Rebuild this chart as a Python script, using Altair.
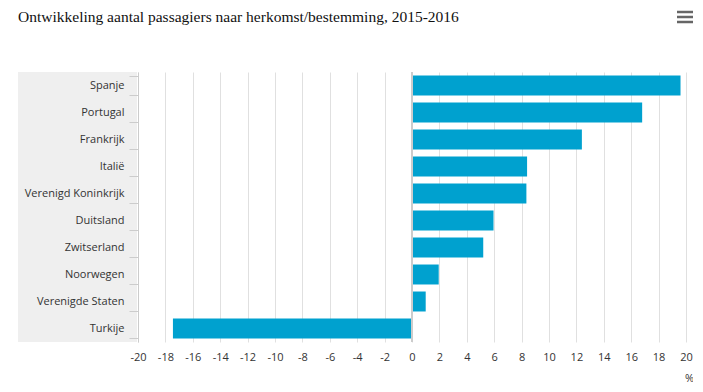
import altair as alt
import pandas as pd

countries = ["Spanje", "Portugal", "Frankrijk", "Italië", "Verenigd Koninkrijk",
             "Duitsland", "Zwitserland", "Noorwegen", "Verenigde Staten", "Turkije"]
values = [19.6, 16.8, 12.4, 8.4, 8.35, 5.95, 5.2, 1.95, 1.0, -17.45]
x_ticks = list(range(-20, 21, 2))
title_text = "Ontwikkeling aantal passagiers naar herkomst/bestemming, 2015-2016"

df = pd.DataFrame({"land": countries, "waarde": values})
menu_df = pd.DataFrame({"i": [0, 1, 2]})

W, H = 548, 270
LABEL_FONT = "Open Sans"

xscale = alt.Scale(domain=[-20, 20], nice=False, zero=False)
yscale = alt.Scale(domain=countries, paddingInner=0.26, paddingOuter=0.13)

xaxis = alt.Axis(values=x_ticks, tickCount=50, grid=True, gridColor="#e0e0e0", gridWidth=1,
                 domain=False, ticks=False, labelPadding=9, labelFontSize=11,
                 labelFont=LABEL_FONT, labelColor="#333333", title="%",
                 labelExpr="'' + datum.value", labelOverlap=False,
                 titleFont=LABEL_FONT, titleFontSize=11, titleFontWeight="normal",
                 titleColor="#333333", titleX=W + 3, titleY=36, titleAlign="center",
                 titleBaseline="middle", labelFlush=False)

band = alt.Chart(df).mark_rect(color="#efefef").encode(
    y=alt.Y("land:N", sort=countries, scale=alt.Scale(domain=countries, paddingInner=0, paddingOuter=0),
            axis=None),
    x=alt.value(-120),
    x2=alt.value(-1),
)

bars = alt.Chart(df).mark_bar(color="#00a1cf").encode(
    x=alt.X("waarde:Q", scale=xscale, axis=xaxis),
    y=alt.Y("land:N", sort=countries, scale=yscale,
            axis=alt.Axis(title=None, domainColor="#cccccc", domainWidth=1,
                          tickColor="#cccccc", tickSize=9, tickBand="extent",
                          labelPadding=5, labelFontSize=11, labelFont=LABEL_FONT,
                          labelColor="#333333", labelAlign="right", zindex=1)),
)

zero = alt.Chart(pd.DataFrame({"z": [0]})).mark_rule(color="#cccccc", strokeWidth=2).encode(
    x=alt.X("z:Q", scale=xscale, axis=xaxis),
)

menu = alt.Chart(menu_df).mark_rule(color="#666666", strokeWidth=2.5).encode(
    x=alt.value(539),
    x2=alt.value(555),
    y=alt.Y("i:Q", scale=alt.Scale(domain=[0, 2], range=[-60, -50]), axis=None),
)

title = alt.Chart(pd.DataFrame({"t": [title_text]})).mark_text(
    align="left", baseline="alphabetic", font="Liberation Serif", fontSize=15.5, color="#111111"
).encode(text="t:N", x=alt.value(-120), y=alt.value(-50))

chart = alt.layer(band, bars, zero, menu, title).properties(
    width=W,
    height=H,
    autosize=alt.AutoSizeParams(type="none"),
    padding={"left": 130, "top": 64, "right": 7, "bottom": 42},
).resolve_scale(y="independent").configure_view(stroke=None)

chart.save("out.html", embed_options={"renderer": "svg", "actions": False})
